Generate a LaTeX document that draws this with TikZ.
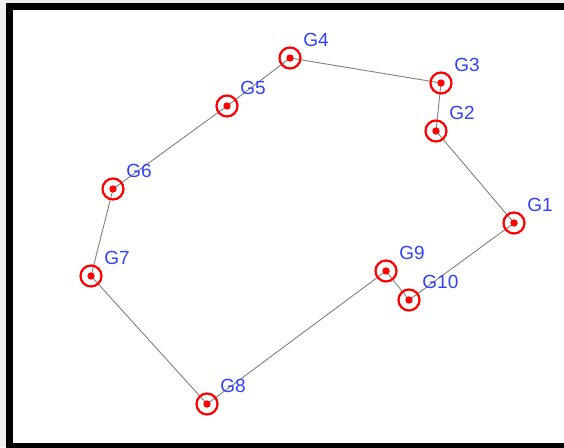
\documentclass[tikz,border=0pt]{standalone}
\usepackage{fontspec}
\setmainfont{Liberation Sans}
\usetikzlibrary{positioning,backgrounds}
\definecolor{lblue}{RGB}{50,65,255}

\begin{document}
\begin{tikzpicture}[x=1pt, y=-1pt]
    \tikzset{
        pt/.style       =   { circle
                            , draw=red
                            , line width=2.2pt
                            , minimum size=21pt
                            , inner sep=0pt
                            , path picture={\fill[red] (path picture bounding box.center) circle (3.7pt);}
                            , label distance=10pt
        }
        , lbl/.style    =   { text=lblue
                            , inner sep=0pt
                            , xshift=5pt
                            , yshift=3pt
                            , font=\fontsize{19}{20}\selectfont
        }
        , edge/.style   =   { draw=gray
                            , line width=0.9pt
        }
    }
    \useasboundingbox (0,0) rectangle (564,447);

    \node(g1)[pt, label={[lbl]45:G1}]  at (514,223) {};
    \node(g2)[pt, label={[lbl]45:G2}]  at (436,131) {};
    \node(g3)[pt, label={[lbl]45:G3}]  at (441,83)  {};
    \node(g4)[pt, label={[lbl]45:G4}]  at (290,58)  {};
    \node(g5)[pt, label={[lbl]45:G5}]  at (227,106) {};
    \node(g6)[pt, label={[lbl]45:G6}]  at (113,189) {};
    \node(g7)[pt, label={[lbl]45:G7}]  at (91,276)  {};
    \node(g8)[pt, label={[lbl]45:G8}]  at (207,404) {};
    \node(g9)[pt, label={[lbl]45:G9}]  at (386,271) {};
    \node(g10)[pt, label={[lbl]45:G10}] at (409,300) {};

    \begin{scope}[on background layer]
    \fill[gray!12] (0,0) rectangle (564,447);
    \fill[white] (9,6.5) rectangle (564,447);
    % frame, open on the right
    \draw[line width=7pt] (564,6.5) -- (9,6.5) -- (9,446.5) -- (564,446.5);
    \draw[edge] (g1.center) -- (g2.center) -- (g3.center) -- (g4.center)
        -- (g5.center) -- (g6.center) -- (g7.center) -- (g8.center)
        -- (g9.center) -- (g10.center) -- (g1.center);
    \end{scope}
\end{tikzpicture}
\end{document}
